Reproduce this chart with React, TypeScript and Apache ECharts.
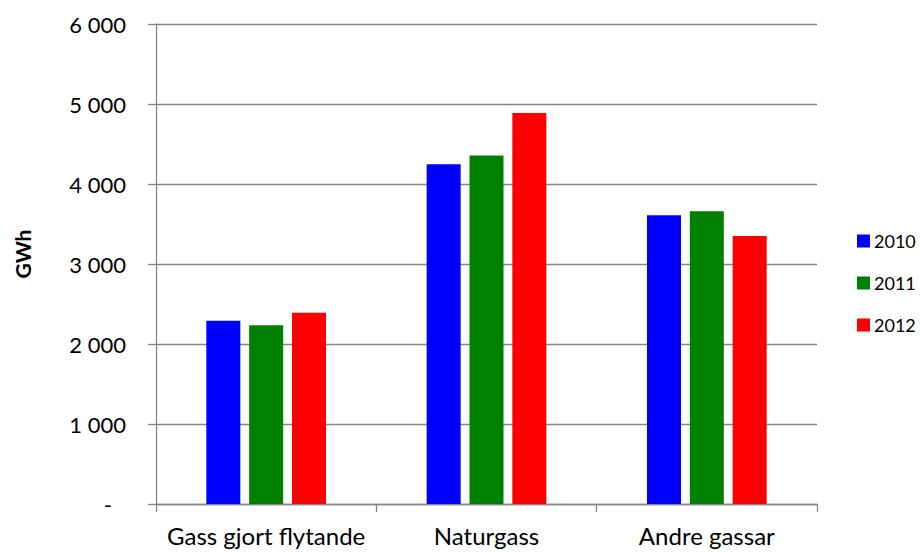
import React, { useEffect, useRef } from "react";
import * as echarts from "echarts";

const categories = ["Gass gjort flytande", "Naturgass", "Andre gassar"];
const years = ["2010", "2011", "2012"];
const values2010 = [2292, 4246, 3609];
const values2011 = [2234, 4355, 3659];
const values2012 = [2392, 4888, 3350];
const colors = ["#0000FF", "#008000", "#FF0000"];
const yAxisTitle = "GWh";

const FONT = "Lato, 'Open Sans', sans-serif";

function fmt(v: number): string {
  if (v === 0) return "{d|-}";
  const s = String(Math.round(v));
  return s.replace(/\B(?=(\d{3})+(?!\d))/g, " ");
}

export default function App() {
  const ref = useRef<HTMLDivElement>(null);
  useEffect(() => {
    if (!ref.current) return;
    const chart = echarts.init(ref.current, null, { renderer: "svg" });
    const seriesData = [values2010, values2011, values2012];
    chart.setOption({
      animation: false,
      backgroundColor: "#ffffff",
      grid: { left: 156, right: 104, top: 24, bottom: 48, containLabel: false },
      legend: {
        orient: "vertical",
        left: 857,
        top: 232,
        padding: 0,
        itemWidth: 13,
        itemHeight: 13,
        itemGap: 24,
        icon: "rect",
        textStyle: { fontFamily: FONT, fontSize: 18, color: "#000", padding: [0, 0, 0, -1] },
        data: years,
      },
      graphic: [
        {
          type: "text",
          x: 22,
          y: 254,
          rotation: Math.PI / 2,
          style: {
            text: yAxisTitle,
            fontFamily: FONT,
            fontSize: 21,
            fontWeight: "bold",
            fill: "#000",
            align: "center",
            verticalAlign: "middle",
          },
        },
      ],
      xAxis: {
        type: "category",
        data: categories,
        axisLine: { lineStyle: { color: "#868686", width: 1.3 } },
        axisTick: { show: true, length: 8, lineStyle: { color: "#868686", width: 1.3 } },
        axisLabel: { fontFamily: FONT, fontSize: 24, color: "#000", margin: 19, interval: 0 },
      },
      yAxis: {
        type: "value",
        min: 0,
        max: 6000,
        interval: 1000,
        axisLine: { show: true, lineStyle: { color: "#868686", width: 1.3 } },
        axisTick: { show: true, length: 8, lineStyle: { color: "#868686", width: 1.3 } },
        splitLine: { show: true, lineStyle: { color: "#868686", width: 1.3 } },
        axisLabel: {
          fontFamily: FONT,
          fontSize: 22,
          color: "#000",
          margin: 30,
          formatter: (v: number) => fmt(v),
          rich: { d: { fontFamily: FONT, fontSize: 22, color: "#000", padding: [0, 14, 0, 0] } },
        },
      },
      series: years.map((y, i) => ({
        name: y,
        type: "bar",
        data: seriesData[i],
        barWidth: 34,
        barGap: "26%",
        itemStyle: { color: colors[i] },
      })),
    });
    return () => chart.dispose();
  }, []);
  return <div ref={ref} style={{ position: "fixed", left: 0, top: 0, width: 921, height: 552 }} />;
}
